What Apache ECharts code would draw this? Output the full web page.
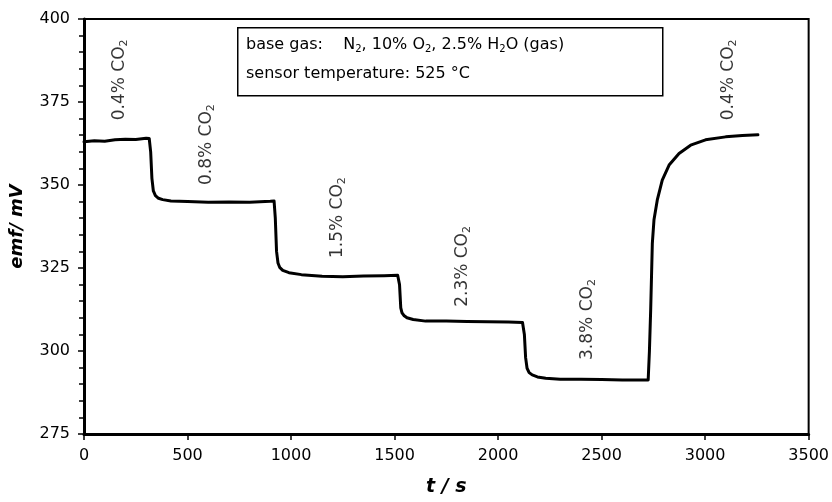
<!DOCTYPE html>
<html>
<head>
<meta charset="utf-8">
<script src="https://cdn.jsdelivr.net/npm/echarts@6/dist/echarts.min.js"></script>
<style>
  html, body { margin: 0; padding: 0; background: #fff; }
  #main { width: 832px; height: 502px; }
</style>
</head>
<body>
<div id="main"></div>
<script>
"use strict";

// emf trace (t in s, emf in mV)
var timeS = [
  0, 50, 100, 150, 200, 250, 300, 315, 322, 328, 335, 345, 360, 380, 420,
  500, 600, 700, 800, 900, 918, 924, 930, 937, 945, 960, 990, 1050, 1150,
  1250, 1350, 1450, 1515, 1524, 1530, 1536, 1545, 1560, 1590, 1650, 1750,
  1850, 1950, 2050, 2118, 2127, 2133, 2140, 2150, 2165, 2190, 2230, 2300,
  2400, 2500, 2600, 2700, 2725, 2731, 2737, 2745, 2753, 2769, 2793, 2826,
  2874, 2930, 3002, 3099, 3180, 3255
];
var emfMV = [
  363.0, 363.3, 363.2, 363.6, 363.8, 363.7, 364.1, 364.0, 360.0, 352.0, 348.2, 346.8, 346.0, 345.6, 345.2,
  345.0, 344.8, 344.9, 344.8, 345.1, 345.2, 340.0, 330.0, 326.5, 325.2, 324.3, 323.6, 323.0, 322.5,
  322.4, 322.6, 322.7, 322.8, 320.0, 313.0, 311.5, 310.7, 310.0, 309.5, 309.0, 309.0,
  308.9, 308.8, 308.7, 308.6, 305.0, 298.0, 294.8, 293.5, 292.8, 292.2, 291.8, 291.5,
  291.5, 291.4, 291.3, 291.3, 291.3, 300.0, 312.3, 332.4, 339.5, 345.5, 351.5, 356.0,
  359.5, 362.0, 363.6, 364.5, 364.9, 365.1
];

// CO2 step labels: text, time and emf at the foot of each rotated label
var stepLabels = ["0.4%", "0.8%", "1.5%", "2.3%", "3.8%", "0.4%"];
var stepLabelT = [172, 590, 1225, 1827, 2432, 3115];
var stepLabelEmf = [369.5, 350.0, 328.0, 313.3, 297.3, 369.5];

var xTicks = { min: 0, max: 3500, step: 500 };
var yTicks = { min: 275, max: 400, step: 25 };

var FONT = "DejaVu Sans";

var chartDom = document.getElementById("main");
var myChart = echarts.init(chartDom);

var traceData = timeS.map(function (t, i) { return [t, emfMV[i]]; });
var labelData = stepLabels.map(function (s, i) {
  return { value: [stepLabelT[i], stepLabelEmf[i]], name: s };
});

var option = {
  animation: false,
  backgroundColor: "#fff",
  textStyle: { fontFamily: FONT },
  grid: {
    left: 84, right: 22, top: 19, bottom: 67,
    show: true, borderColor: "#000", borderWidth: 2
  },
  xAxis: {
    type: "value",
    min: xTicks.min, max: xTicks.max, interval: xTicks.step,
    name: "t / s",
    nameLocation: "middle",
    nameGap: 44,
    nameTextStyle: { fontFamily: FONT, fontSize: 19, fontWeight: "bold", fontStyle: "italic", color: "#000" },
    axisLine: { show: true, lineStyle: { color: "#000", width: 3 } },
    axisTick: { show: true, inside: false, length: 6, lineStyle: { color: "#000", width: 1.5 } },
    axisLabel: {
      color: "#000", fontSize: 16, fontFamily: FONT, margin: 14,
      formatter: function (v) { return String(v); }
    },
    splitLine: { show: false }
  },
  yAxis: {
    type: "value",
    min: yTicks.min, max: yTicks.max, interval: yTicks.step,
    name: "emf/ mV",
    nameLocation: "middle",
    nameGap: 58,
    nameTextStyle: { fontFamily: FONT, fontSize: 18, fontWeight: "bold", fontStyle: "italic", color: "#000" },
    axisLine: { show: true, lineStyle: { color: "#000", width: 3 } },
    axisTick: { show: true, inside: false, length: 6, lineStyle: { color: "#000", width: 1.5 } },
    minorTick: { show: true, splitNumber: 5, length: 5, lineStyle: { color: "#000", width: 1.5 } },
    axisLabel: {
      color: "#000", fontSize: 16, fontFamily: FONT, margin: 14,
      formatter: function (v) { return String(v); }
    },
    splitLine: { show: false }
  },
  series: [
    {
      type: "line",
      data: traceData,
      showSymbol: false,
      symbol: "none",
      lineStyle: { color: "#000", width: 3, join: "round", cap: "round" },
      z: 3
    },
    {
      type: "scatter",
      data: labelData,
      symbolSize: 0,
      silent: true,
      label: {
        show: true,
        position: "inside",
        rotate: 90,
        align: "left",
        verticalAlign: "middle",
        color: "#000",
        fontFamily: FONT,
        fontSize: 17,
        formatter: function (p) { return "{n|" + p.name + " CO}{s|2}"; },
        rich: {
          n: { fontFamily: FONT, fontSize: 17, color: "#000", lineHeight: 20 },
          s: { fontFamily: FONT, fontSize: 11, color: "#000", verticalAlign: "bottom", lineHeight: 20 }
        }
      }
    }
  ],
  graphic: [
    {
      type: "rect",
      left: 237, top: 27,
      shape: { width: 425, height: 68 },
      style: { fill: "#fff", stroke: "#000", lineWidth: 1.5 },
      z: 10
    },
    {
      type: "text",
      left: 246, top: 37,
      z: 11,
      style: {
        text: "{n|base gas:    N}{s|2}{n|, 10% O}{s|2}{n|, 2.5% H}{s|2}{n|O (gas)}",
        font: "16px " + FONT,
        fill: "#000",
        rich: {
          n: { fontSize: 16, fontFamily: FONT, fill: "#000", lineHeight: 18 },
          s: { fontSize: 10, fontFamily: FONT, fill: "#000", verticalAlign: "bottom", lineHeight: 18 }
        }
      }
    },
    {
      type: "text",
      left: 246, top: 66,
      z: 11,
      style: {
        text: "sensor temperature: 525 °C",
        font: "16px " + FONT,
        fill: "#000"
      }
    }
  ]
};

option && myChart.setOption(option);
</script>
</body>
</html>
